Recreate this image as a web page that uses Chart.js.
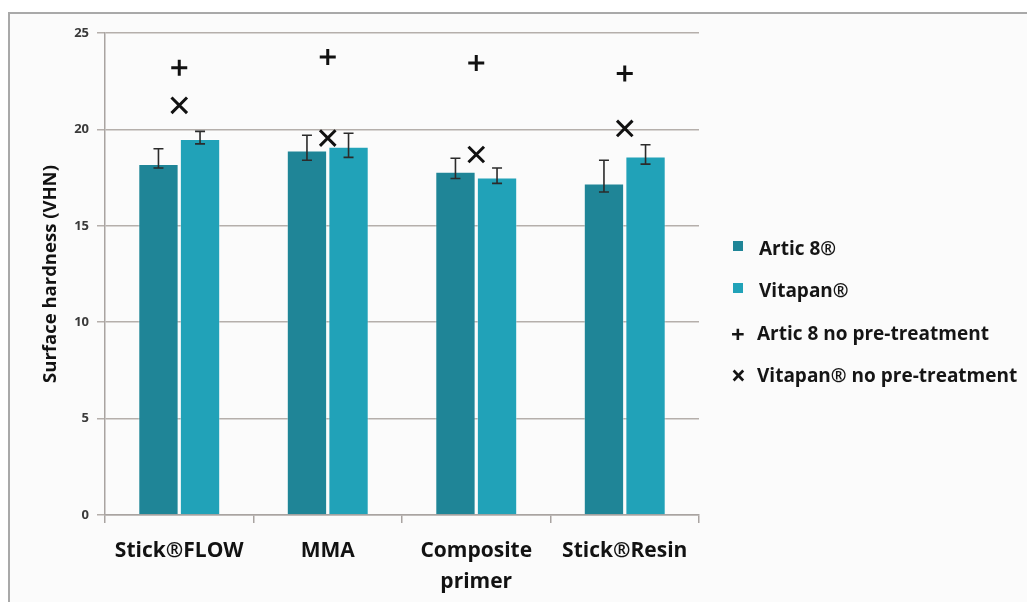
<!DOCTYPE html>
<html>
<head>
<meta charset="utf-8">
<script src="https://cdn.jsdelivr.net/npm/chart.js@4/dist/chart.umd.min.js"></script>
<style>
  html, body { margin: 0; padding: 0; background: #fff; }
  body { width: 1027px; height: 602px; position: relative; overflow: hidden; font-family: "Open Sans", sans-serif; }
  #frame { position: absolute; left: 8px; top: 12px; width: 1030px; height: 600px;
           border-left: 2px solid #a9a9a9; border-top: 2px solid #a9a9a9; background: #fbfbfb; }
  #wrap { position: absolute; left: 0; top: 0; width: 1027px; height: 602px; }
  #legend { position: absolute; left: 731px; top: 0; font: bold 19px "Open Sans", sans-serif; color: #151515; }
  .item { position: absolute; white-space: nowrap; display: flex; align-items: center; height: 26px; }
  .mk { display: inline-block; width: 26px; text-align: left; }
  .sq { width: 10px; height: 10px; margin: 0 16px 4px 2px; display: inline-block; }
</style>
</head>
<body>
<div id="frame"></div>
<div id="wrap"><canvas id="grafico" width="1027" height="602"></canvas></div>
<div id="legend"></div>
<script>
const categorie = ["Stick®FLOW", "MMA", ["Composite", "primer"], "Stick®Resin"];
const nomiSerie = ["Artic 8®", "Vitapan®", "Artic 8 no pre-treatment", "Vitapan® no pre-treatment"];

// mean surface hardness (VHN)
const artic = [18.2, 18.9, 17.8, 17.2];
const vitapan = [19.5, 19.1, 17.5, 18.6];
// error bar limits
const articAlto = [19.0, 19.7, 18.5, 18.4];
const articBasso = [18.0, 18.4, 17.45, 16.75];
const vitapanAlto = [19.9, 19.8, 18.0, 19.2];
const vitapanBasso = [19.25, 18.55, 17.2, 18.2];
// without pre-treatment
const articNoPre = [23.2, 23.75, 23.45, 22.9];
const vitapanNoPre = [21.25, 19.55, 18.7, 20.05];

const yTicks = [0, 5, 10, 15, 20, 25];

const coloreArtic = "#1f8597";
const coloreVitapan = "#21a2b8";
const font = "Open Sans";

// error bars on top of the two bar series
const barreErrore = {
  id: "barreErrore",
  afterDatasetsDraw(chart) {
    const ctx = chart.ctx;
    const y = chart.scales.y;
    const limiti = [[articAlto, articBasso], [vitapanAlto, vitapanBasso]];
    ctx.save();
    ctx.strokeStyle = "#2b2b2b";
    ctx.lineWidth = 1.6;
    limiti.forEach((lim, d) => {
      chart.getDatasetMeta(d).data.forEach((bar, i) => {
        const x = bar.x;
        const yA = y.getPixelForValue(lim[0][i]);
        const yB = y.getPixelForValue(lim[1][i]);
        ctx.beginPath();
        ctx.moveTo(x, yA); ctx.lineTo(x, yB);
        ctx.moveTo(x - 5, yA); ctx.lineTo(x + 5, yA);
        ctx.moveTo(x - 5, yB); ctx.lineTo(x + 5, yB);
        ctx.stroke();
      });
    });
    ctx.restore();
  }
};

const ctx = document.getElementById("grafico").getContext("2d");
new Chart(ctx, {
  type: "bar",
  data: {
    labels: categorie,
    datasets: [
      { label: nomiSerie[0], data: artic, backgroundColor: coloreArtic, borderColor: "rgba(255,255,255,0.35)", borderWidth: 1,
        categoryPercentage: 0.56, barPercentage: 0.97, order: 2 },
      { label: nomiSerie[1], data: vitapan, backgroundColor: coloreVitapan, borderColor: "rgba(255,255,255,0.35)", borderWidth: 1,
        categoryPercentage: 0.56, barPercentage: 0.97, order: 2 },
      { type: "line", label: nomiSerie[2], data: articNoPre, showLine: false, pointStyle: "cross",
        pointRadius: 8, pointBorderWidth: 3, borderColor: "#111", backgroundColor: "#111", order: 1 },
      { type: "line", label: nomiSerie[3], data: vitapanNoPre, showLine: false, pointStyle: "crossRot",
        pointRadius: 11, pointBorderWidth: 3, borderColor: "#111", backgroundColor: "#111", order: 1 }
    ]
  },
  options: {
    responsive: false,
    animation: false,
    layout: { padding: { left: 0, right: 328, top: 33, bottom: 0 } },
    plugins: { legend: { display: false }, tooltip: { enabled: false } },
    scales: {
      x: {
        grid: { display: true, drawOnChartArea: false, drawTicks: true, tickLength: 8, color: "#a9a4a1", lineWidth: 1.5 },
        border: { color: "#a9a4a1", width: 1.5 },
        ticks: { color: "#121212", font: { family: font, size: 21, weight: "bold", lineHeight: 1.5 }, padding: 12, maxRotation: 0 },
        afterFit(scale) { scale.height = 87; }
      },
      y: {
        min: 0, max: 25,
        afterBuildTicks(scale) { scale.ticks = yTicks.map(v => ({ value: v })); },
        grid: { color: "#b5afab", lineWidth: 1.5, tickLength: 8 },
        border: { color: "#a9a4a1", width: 1.5 },
        ticks: { color: "#3a3a3a", font: { family: font, size: 13, weight: "bold" }, padding: 8 },
        title: { display: true, text: "Surface hardness (VHN)", color: "#121212",
                 font: { family: font, size: 18.5, weight: "bold" }, padding: { top: 40, bottom: 0 } },
        afterFit(scale) { scale.width = 105; }
      }
    }
  },
  plugins: [barreErrore]
});

// legend to the right of the plot
const legenda = document.getElementById("legend");
const righe = [248, 290, 333, 375];
nomiSerie.forEach((nome, i) => {
  const el = document.createElement("div");
  el.className = "item";
  el.style.top = (righe[i] - 13) + "px";
  let mk;
  if (i < 2) {
    mk = '<span class="sq" style="background:' + (i === 0 ? coloreArtic : coloreVitapan) + '"></span>';
  } else {
    mk = '<span class="mk" style="font-size:' + (i === 2 ? 24 : 26) + 'px">' + (i === 2 ? "+" : "×") + '</span>';
  }
  el.innerHTML = mk + "<span>" + nome + "</span>";
  legenda.appendChild(el);
});
</script>
</body>
</html>
